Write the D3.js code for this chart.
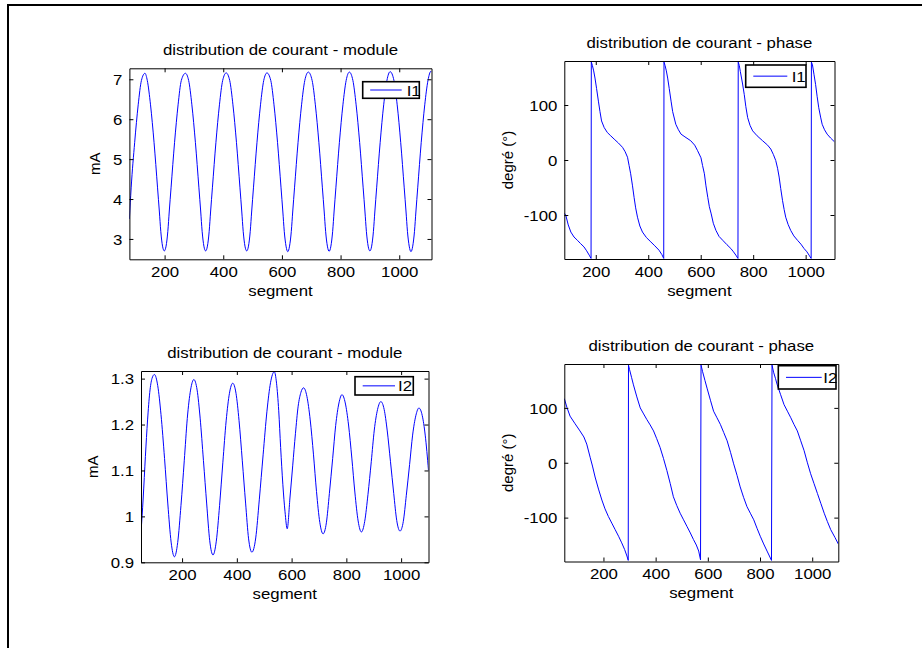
<!DOCTYPE html>
<html><head><meta charset="utf-8">
<script src="https://cdn.jsdelivr.net/npm/d3@7"></script>
<style>
body{margin:0;background:#fff}
svg{display:block}
text{font-family:"Liberation Sans",Arial,Helvetica,sans-serif;fill:#000}
</style>
</head><body>
<svg id="c" width="922" height="648"></svg>
<script>
// ---------------- DATA ----------------
const xTicks = [200, 400, 600, 800, 1000];
const xTickLabels = ["200", "400", "600", "800", "1000"];
const yTicksI1Mod = [3, 4, 5, 6, 7];
const yTickLabelsI1Mod = ["3", "4", "5", "6", "7"];
const yTicksI2Mod = [0.9, 1, 1.1, 1.2, 1.3];
const yTickLabelsI2Mod = ["0.9", "1", "1.1", "1.2", "1.3"];
const yTicksPhase = [-100, 0, 100];
const yTickLabelsPhase = ["-100", "0", "100"];

const titleModule = "distribution de courant - module";
const titlePhase = "distribution de courant - phase";
const xLabel = "segment";
const yLabelModule = "mA";
const yLabelPhase = "degré (°)";
const legendI1 = "I1";
const legendI2 = "I2";

// I1 module (mA) vs segment
const segI1Mod = [80, 86, 98, 110, 121, 133,
  141, 152, 164, 176, 182, 187, 193, 199, 205, 211, 216, 222, 234, 246, 257, 271,
  282, 293, 305, 317, 323, 328, 334, 340, 346, 352, 357, 363, 375, 387, 398, 410,
  422, 433, 445, 457, 463, 468, 474, 480, 486, 492, 497, 503, 515, 527, 538, 549,
  562, 573, 585, 597, 603, 608, 614, 620, 626, 632, 637, 643, 655, 667, 678, 690,
  703, 714, 726, 738, 744, 749, 755, 761, 767, 773, 778, 784, 796, 808, 819, 830,
  842, 853, 865, 877, 883, 888, 894, 900, 906, 912, 917, 923, 935, 947, 958, 969,
  982, 993, 1005, 1017, 1023, 1028, 1034, 1040, 1046, 1052, 1057, 1063, 1075, 1087, 1098, 1108, 1110];
const i1Mod = [3.50, 4.28, 5.42, 6.36, 6.97, 7.15,
  6.97, 6.36, 5.42, 4.28, 3.70, 3.19, 2.82, 2.70, 2.82, 3.19, 3.70, 4.28, 5.42, 6.36, 6.97, 7.15,
  6.97, 6.36, 5.42, 4.28, 3.70, 3.19, 2.82, 2.70, 2.82, 3.19, 3.70, 4.28, 5.42, 6.36, 6.97, 7.16,
  6.97, 6.36, 5.42, 4.28, 3.70, 3.19, 2.82, 2.70, 2.82, 3.19, 3.70, 4.28, 5.42, 6.36, 6.97, 7.16,
  6.97, 6.36, 5.42, 4.28, 3.70, 3.19, 2.82, 2.68, 2.82, 3.19, 3.70, 4.28, 5.42, 6.36, 6.97, 7.18,
  6.97, 6.36, 5.42, 4.28, 3.70, 3.19, 2.82, 2.69, 2.82, 3.19, 3.70, 4.28, 5.42, 6.36, 6.97, 7.18,
  6.97, 6.36, 5.42, 4.28, 3.70, 3.19, 2.82, 2.70, 2.82, 3.19, 3.70, 4.28, 5.42, 6.36, 6.97, 7.19,
  6.97, 6.36, 5.42, 4.28, 3.70, 3.19, 2.82, 2.68, 2.82, 3.19, 3.70, 4.28, 5.42, 6.36, 6.97, 7.20, 7.19];

// I1 phase (deg) vs segment
const segI1Ph = [81, 86, 95, 105, 117, 130, 142, 155, 165, 175, 182,
  183, 187, 192, 197, 203, 210, 216, 222, 232, 244, 257, 270, 286, 302, 312, 321, 327, 333, 340, 346, 352, 359, 368, 378, 393, 410, 425, 441, 452, 459,
  460, 464, 469, 474, 480, 487, 493, 505, 515, 525, 540, 562, 577, 588, 601, 607, 614, 620, 627, 633, 640, 648, 658, 670, 684, 700, 715, 725, 734, 742,
  743, 747, 751, 759, 766, 772, 779, 788, 798, 815, 836, 855, 867, 877, 886, 893, 899, 905, 912, 918, 924, 933, 943, 955, 969, 982, 994, 1005, 1013, 1021,
  1022, 1026, 1032, 1038, 1044, 1050, 1057, 1063, 1072, 1082, 1095, 1110];
const i1Ph = [-97, -101, -118, -131, -140, -146, -152, -158, -165, -173, -179,
  178, 172, 162, 149, 130, 107, 88, 71, 59, 50, 44, 38, 31, 23, 15, 5, -10, -25, -47, -68, -87, -104, -120, -131, -141, -149, -156, -164, -172, -179,
  178, 172, 162, 149, 130, 107, 88, 65, 55, 47, 42, 35, 27, 17, 4, -10, -25, -47, -68, -85, -98, -115, -128, -139, -146, -154, -161, -167, -173, -179,
  178, 172, 161, 140, 119, 97, 77, 63, 53, 44, 35, 27, 20, 10, -1, -15, -31, -52, -74, -90, -104, -117, -128, -138, -146, -153, -161, -167, -173, -179,
  178, 173, 155, 137, 115, 95, 78, 65, 55, 47, 40, 33];

// I2 module (mA) vs segment
const segI2Mod = [50, 58, 66, 74, 82, 90, 99,
  111, 123, 136, 148, 160, 172,
  184, 196, 208, 219, 231, 243,
  255, 266, 278, 290, 301, 313,
  325, 337, 349, 361, 373, 385,
  397, 408, 420, 432, 443, 455,
  469, 482, 496, 510, 523, 537,
  545, 553, 560, 568, 576, 584,
  594, 604, 614, 624, 634, 644,
  656, 668, 680, 691, 703, 715,
  727, 738, 750, 761, 773, 784,
  796, 808, 820, 831, 843, 855,
  867, 879, 891, 902, 914, 926,
  938, 949, 961, 973, 984, 996,
  1008, 1019, 1031, 1042, 1054, 1065,
  1077, 1088, 1100];
const i2Mod = [0.965, 1.04, 1.13, 1.21, 1.27, 1.30, 1.309,
  1.285, 1.222, 1.126, 1.027, 0.944, 0.912,
  0.943, 1.024, 1.121, 1.213, 1.275, 1.298,
  1.275, 1.214, 1.122, 1.027, 0.947, 0.916,
  0.946, 1.024, 1.118, 1.208, 1.268, 1.290,
  1.268, 1.209, 1.121, 1.029, 0.951, 0.922,
  0.953, 1.036, 1.134, 1.229, 1.291, 1.315,
  1.290, 1.230, 1.150, 1.070, 1.010, 0.973,
  1.040, 1.110, 1.180, 1.240, 1.270, 1.280,
  1.261, 1.210, 1.134, 1.054, 0.987, 0.962,
  0.986, 1.050, 1.126, 1.198, 1.247, 1.265,
  1.247, 1.199, 1.127, 1.053, 0.990, 0.966,
  0.989, 1.048, 1.119, 1.188, 1.233, 1.250,
  1.233, 1.188, 1.120, 1.050, 0.991, 0.968,
  0.989, 1.046, 1.113, 1.177, 1.220, 1.236,
  1.220, 1.177, 1.100];

// I2 phase (deg) vs segment
const segI2Ph = [50, 60, 72, 90, 110, 125, 136, 149, 158, 168, 181, 194, 206, 219, 232, 245, 258, 270, 281, 290, 295,
  296, 300, 308, 315, 328, 341, 354, 366, 379, 392, 404, 417, 430, 443, 456, 468, 481, 494, 507, 520, 533, 545, 556, 565, 572,
  574, 580, 589, 597, 610, 622, 635, 648, 661, 674, 687, 699, 712, 724, 737, 750, 763, 776, 789, 801, 814, 827, 836, 844,
  846, 852, 859, 866, 879, 892, 905, 918, 930, 943, 956, 969, 981, 994, 1007, 1020, 1033, 1046, 1058, 1071, 1087, 1100];
const i2Ph = [117, 101, 85, 72, 58, 47, 34, 10, -6, -26, -48, -68, -84, -98, -110, -122, -134, -146, -158, -170, -178,
  178, 170, 155, 142, 120, 100, 89, 79, 69, 58, 44, 28, 8, -14, -38, -62, -78, -92, -104, -116, -128, -140, -150, -161, -177,
  178, 166, 150, 136, 114, 94, 82, 70, 55, 40, 19, -2, -23, -44, -63, -80, -92, -104, -120, -134, -148, -161, -170, -178,
  178, 165, 154, 142, 124, 106, 94, 82, 70, 58, 40, 22, 1, -20, -38, -56, -74, -92, -107, -122, -136, -148];

// ---------------- DRAWING ----------------
const svg = d3.select("#c");
svg.append("rect").attr("width", 922).attr("height", 648).attr("fill", "#fff");
// figure frame (top and left edges visible)
svg.append("line").attr("x1", 7).attr("x2", 922).attr("y1", 5).attr("y2", 5)
  .attr("stroke", "#000").attr("stroke-width", 2);
svg.append("line").attr("x1", 8).attr("x2", 8).attr("y1", 4).attr("y2", 648)
  .attr("stroke", "#000").attr("stroke-width", 2);

const SX = 1.12, FS = 15, TL = 4;
const FONT = '"Liberation Sans",Arial,Helvetica,sans-serif';

function stext(x, y, str, anchor) {
  return svg.append("text")
    .attr("transform", `translate(${x},${y}) scale(${SX},1)`)
    .attr("text-anchor", anchor).attr("font-size", FS).text(str);
}

function panel(cfg) {
  const {l, r, t, b} = cfg.box;
  const x = d3.scaleLinear().domain(cfg.xDomain).range([l, r]);
  const y = d3.scaleLinear().domain(cfg.yDomain).range([b, t]);
  const id = "clip" + cfg.id;
  svg.append("clipPath").attr("id", id).append("rect")
    .attr("x", l).attr("y", t - 1).attr("width", r - l).attr("height", b - t + 2);

  const pts = cfg.xs.map((s, i) => [s, cfg.ys[i]]);
  const line = d3.line().x(d => x(d[0])).y(d => y(d[1])).curve(cfg.curve);
  svg.append("path").datum(pts).attr("d", line)
    .attr("fill", "none").attr("stroke", "#0000ff").attr("stroke-width", 1)
    .attr("clip-path", `url(#${id})`);

  const fmtX = (d, i) => xTickLabels[xTicks.indexOf(d)];
  const fmtY = (d, i) => cfg.yTickLabels[cfg.yTicks.indexOf(d)];

  const gB = svg.append("g").attr("transform", `translate(0,${b})`)
    .call(d3.axisBottom(x).tickValues(xTicks).tickFormat(fmtX).tickSizeInner(-TL).tickSizeOuter(0).tickPadding(7));
  const gT = svg.append("g").attr("transform", `translate(0,${t})`)
    .call(d3.axisTop(x).tickValues(xTicks).tickFormat(() => "").tickSizeInner(-TL).tickSizeOuter(0));
  const gL = svg.append("g").attr("transform", `translate(${l},0)`)
    .call(d3.axisLeft(y).tickValues(cfg.yTicks).tickFormat(fmtY).tickSizeInner(-TL).tickSizeOuter(0).tickPadding(7));
  const gR = svg.append("g").attr("transform", `translate(${r},0)`)
    .call(d3.axisRight(y).tickValues(cfg.yTicks).tickFormat(() => "").tickSizeInner(-TL).tickSizeOuter(0));
  [gB, gT, gL, gR].forEach(g => {
    g.attr("font-family", FONT).attr("font-size", FS);
    g.selectAll(".domain").attr("stroke", "#000");
    g.selectAll(".tick line").attr("stroke", "#000");
  });
  gB.selectAll(".tick text").attr("y", 18).attr("dy", null)
    .attr("transform", `scale(${SX},1)`).attr("fill", "#000");
  gL.selectAll(".tick text").attr("x", -7 / SX).attr("dy", "0.35em")
    .attr("transform", `scale(${SX},1)`).attr("fill", "#000");

  stext((l + r) / 2, t - 13.5, cfg.title, "middle");
  stext((l + r) / 2, b + 36.5, xLabel, "middle");
  svg.append("text")
    .attr("transform", `translate(${l - cfg.yLabOff},${(t + b) / 2}) rotate(-90)`)
    .attr("text-anchor", "middle").attr("font-size", FS).text(cfg.yLabel);

  // legend
  const lg = cfg.legend;
  svg.append("rect").attr("x", lg.x).attr("y", lg.y).attr("width", lg.w).attr("height", lg.h)
    .attr("fill", "#fff").attr("stroke", "#000").attr("stroke-width", 1.6);
  const ly = lg.y + lg.h / 2;
  svg.append("line").attr("x1", lg.x + lg.l0).attr("x2", lg.x + lg.l1).attr("y1", ly).attr("y2", ly)
    .attr("stroke", "#0000ff").attr("stroke-width", 1);
  stext(lg.x + lg.tx, ly + 5.5, cfg.legendText, "start");
}

panel({
  id: 1, box: {l: 129.4, r: 431.5, t: 68.3, b: 259.3},
  xDomain: [80, 1110], yDomain: [2.49, 7.275],
  xs: segI1Mod, ys: i1Mod, curve: d3.curveMonotoneX,
  yTicks: yTicksI1Mod, yTickLabels: yTickLabelsI1Mod,
  title: titleModule, yLabel: yLabelModule, yLabOff: 29.5,
  legendText: legendI1,
  legend: {x: 362.7, y: 81.7, w: 56.6, h: 16.6, l0: 7.5, l1: 39, tx: 44}
});
panel({
  id: 2, box: {l: 564.3, r: 834.5, t: 61, b: 259},
  xDomain: [80, 1110], yDomain: [-180, 180],
  xs: segI1Ph, ys: i1Ph, curve: d3.curveLinear,
  yTicks: yTicksPhase, yTickLabels: yTickLabelsPhase,
  title: titlePhase, yLabel: yLabelPhase, yLabOff: 51,
  legendText: legendI1,
  legend: {x: 745.7, y: 65, w: 60.3, h: 22.3, l0: 7.6, l1: 41.6, tx: 46}
});
panel({
  id: 3, box: {l: 141, r: 428.5, t: 371, b: 562.3},
  xDomain: [50, 1100], yDomain: [0.9, 1.3166],
  xs: segI2Mod, ys: i2Mod, curve: d3.curveMonotoneX,
  yTicks: yTicksI2Mod, yTickLabels: yTickLabelsI2Mod,
  title: titleModule, yLabel: yLabelModule, yLabOff: 43,
  legendText: legendI2,
  legend: {x: 355, y: 376.7, w: 58.3, h: 18.3, l0: 7.7, l1: 40, tx: 43}
});
panel({
  id: 4, box: {l: 564.3, r: 838.3, t: 364, b: 561.5},
  xDomain: [50, 1100], yDomain: [-180, 180],
  xs: segI2Ph, ys: i2Ph, curve: d3.curveLinear,
  yTicks: yTicksPhase, yTickLabels: yTickLabelsPhase,
  title: titlePhase, yLabel: yLabelPhase, yLabOff: 51,
  legendText: legendI2,
  legend: {x: 778.3, y: 365.7, w: 57.7, h: 23.3, l0: 7.7, l1: 43.4, tx: 45}
});
</script>
</body></html>
